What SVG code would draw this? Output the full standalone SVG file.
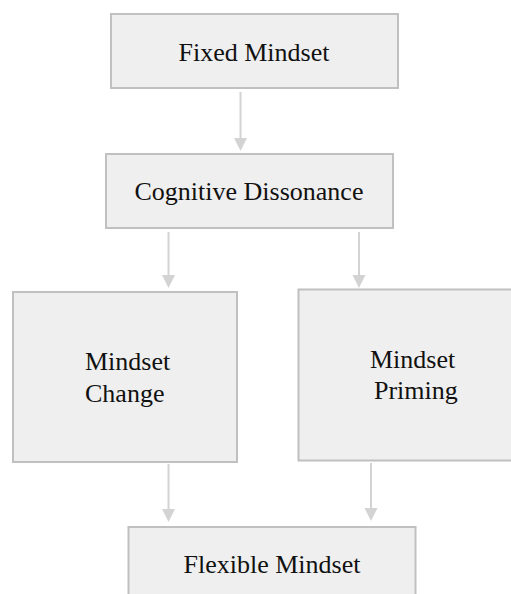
<svg xmlns="http://www.w3.org/2000/svg" width="511" height="594" viewBox="0 0 511 594">
<style>
.box{fill:#efefef;stroke:#c0c0c0;stroke-width:2}
.lbl{font-family:'Liberation Serif','Times New Roman','DejaVu Serif',serif;font-size:26px;fill:#111}
.conn{stroke:#d3d3d3;stroke-width:2;fill:none}
.head{fill:#d3d3d3}
</style>
<rect width="511" height="594" fill="#ffffff"/>
<g id="fixed">
<rect class="box" x="111" y="14" width="287" height="74"/>
<text class="lbl" x="254" y="61" text-anchor="middle" font-family="Liberation Serif">Fixed Mindset</text>
</g>
<g id="cognitive">
<rect class="box" x="106" y="154" width="287" height="74"/>
<text class="lbl" x="249" y="200" text-anchor="middle" font-family="Liberation Serif">Cognitive Dissonance</text>
</g>
<g id="change">
<rect class="box" x="13" y="292" width="224" height="170"/>
<text class="lbl" x="85" y="370" font-family="Liberation Serif">Mindset</text>
<text class="lbl" x="85" y="402" font-family="Liberation Serif">Change</text>
</g>
<g id="priming">
<rect class="box" x="298.5" y="289.5" width="220" height="171"/>
<text class="lbl" x="370" y="368" font-family="Liberation Serif">Mindset</text>
<text class="lbl" x="374" y="399" font-family="Liberation Serif">Priming</text>
</g>
<g id="flexible">
<rect class="box" x="128.5" y="527" width="287" height="80"/>
<text class="lbl" x="272" y="573" text-anchor="middle" font-family="Liberation Serif">Flexible Mindset</text>
</g>
<g id="connectors">
<line class="conn" x1="240.5" y1="92" x2="240.5" y2="139"/>
<polygon class="head" points="234,138 247,138 240.5,151"/>
<line class="conn" x1="168.5" y1="232" x2="168.5" y2="276"/>
<polygon class="head" points="162,275 175,275 168.5,288"/>
<line class="conn" x1="359" y1="232" x2="359" y2="276"/>
<polygon class="head" points="352.5,275 365.5,275 359,288"/>
<line class="conn" x1="168.5" y1="464" x2="168.5" y2="510"/>
<polygon class="head" points="162,509 175,509 168.5,522"/>
<line class="conn" x1="371" y1="463" x2="371" y2="509"/>
<polygon class="head" points="364.5,508 377.5,508 371,521"/>
</g>
</svg>
